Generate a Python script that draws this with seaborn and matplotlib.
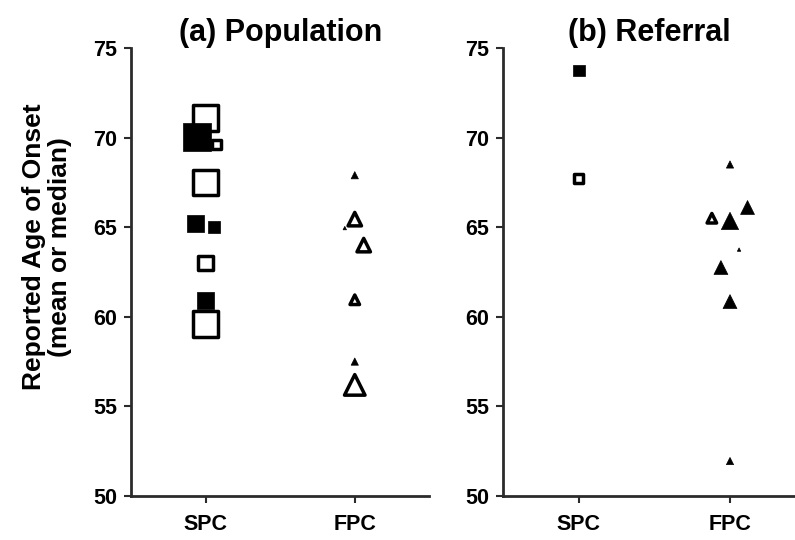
import numpy as np
import pandas as pd
import seaborn as sns
import matplotlib.pyplot as plt

# (a) population-based studies
pop_spc_age = [71.1, 70.05, 69.6, 67.5, 65.2, 65.0, 63.0, 60.9, 59.6]
pop_spc_fill = ['open', 'filled', 'open', 'open', 'filled', 'filled', 'open', 'filled', 'open']
pop_spc_size = ['l', 'l', 's', 'l', 'm', 's', 'm', 'm', 'l']

pop_fpc_age = [67.9, 65.45, 64.95, 64.0, 60.95, 57.5, 56.2]
pop_fpc_fill = ['filled', 'open', 'filled', 'open', 'open', 'filled', 'open']
pop_fpc_size = ['s', 'ml', 'xs', 'ml', 'm', 's', 'l']

# (b) referral-based studies
ref_spc_age = [73.75, 67.7]
ref_spc_fill = ['filled', 'open']
ref_spc_size = ['s', 's']

ref_fpc_age = [68.5, 66.1, 65.5, 65.35, 63.75, 62.75, 60.85, 51.95]
ref_fpc_fill = ['filled', 'filled', 'open', 'filled', 'filled', 'filled', 'filled', 'filled']
ref_fpc_size = ['s', 'm', 'm', 'ml', 'xs', 'm', 'm', 's']

groups = ['SPC', 'FPC']
titles = ['(a) Population', '(b) Referral']

# small horizontal nudges so overlapping studies stay visible
pop_spc_nudge = [0, -0.06, 0.07, 0, -0.07, 0.055, 0, 0, 0]
pop_fpc_nudge = [0, 0, -0.067, 0.06, 0, 0, 0]
ref_spc_nudge = [0, 0]
ref_fpc_nudge = [0, 0.116, -0.12, 0, 0.06, -0.06, 0, 0]

# marker areas (pt^2) per size class, open markers carry a thick outline
square_area = {'filled': {'s': 72, 'm': 155, 'l': 416},
               'open': {'s': 42, 'm': 109, 'l': 339}}
triangle_area = {'filled': {'xs': 6, 's': 27, 'm': 100, 'ml': 154, 'l': 260},
                 'open': {'xs': 2, 's': 10, 'm': 47, 'ml': 94, 'l': 219}}
edge_width = {'filled': 0.5, 'open': 2.5}
fill_palette = {'filled': 'black', 'open': 'white'}
line_col = '#2b2b2b'


def make_frame(age, fill, size, nudge, group, areas):
    df = pd.DataFrame({'age': age, 'fill': fill, 'size': size})
    df['x'] = groups.index(group) + np.array(nudge)
    df['area'] = [areas[f][s] for f, s in zip(df['fill'], df['size'])]
    df['lw'] = df['fill'].map(edge_width)
    return df


def draw_group(ax, df, marker):
    sns.scatterplot(data=df, x='x', y='age', hue='fill', palette=fill_palette,
                    s=df['area'].values, linewidth=df['lw'].values,
                    marker=marker, edgecolor='black', legend=False, ax=ax,
                    clip_on=False)


sns.set_style('ticks')
plt.rcParams['font.family'] = ['Liberation Sans', 'DejaVu Sans']
plt.rcParams['font.weight'] = 'bold'
plt.rcParams['text.color'] = 'black'

fig = plt.figure(figsize=(7.95, 5.4), dpi=100)
ax1 = fig.add_axes([0.165, 0.0815, 0.375, 0.8296])
ax2 = fig.add_axes([0.633, 0.0815, 0.367, 0.8296])

draw_group(ax1, make_frame(pop_spc_age, pop_spc_fill, pop_spc_size, pop_spc_nudge, 'SPC', square_area), 's')
draw_group(ax1, make_frame(pop_fpc_age, pop_fpc_fill, pop_fpc_size, pop_fpc_nudge, 'FPC', triangle_area), '^')
draw_group(ax2, make_frame(ref_spc_age, ref_spc_fill, ref_spc_size, ref_spc_nudge, 'SPC', square_area), 's')
draw_group(ax2, make_frame(ref_fpc_age, ref_fpc_fill, ref_fpc_size, ref_fpc_nudge, 'FPC', triangle_area), '^')

for ax, title, xmax in zip([ax1, ax2], titles, [1.5, 1.43]):
    ax.set_xlim(-0.5, xmax)
    ax.set_ylim(50, 75)
    ax.set_xticks([0, 1])
    ax.set_xticklabels(groups)
    ax.set_yticks(range(50, 76, 5))
    ax.set_xlabel('')
    ax.set_ylabel('')
    ax.set_title(title, fontsize=22, fontweight='bold', color='black', pad=3)
    sns.despine(ax=ax)
    for side in ['left', 'bottom']:
        ax.spines[side].set_linewidth(2)
        ax.spines[side].set_color(line_col)
    ax.tick_params(axis='both', length=5, width=1.5, color=line_col,
                   labelsize=15.5, labelcolor='black')
    ax.tick_params(axis='y', pad=5)
    ax.tick_params(axis='x', pad=8)

ax1.set_ylabel('Reported Age of Onset\n(mean or median)', fontsize=19,
               fontweight='bold', color='black', linespacing=1.1)
ax1.yaxis.set_label_coords(-0.2, 0.556)

fig.savefig('out.png', dpi=100)
